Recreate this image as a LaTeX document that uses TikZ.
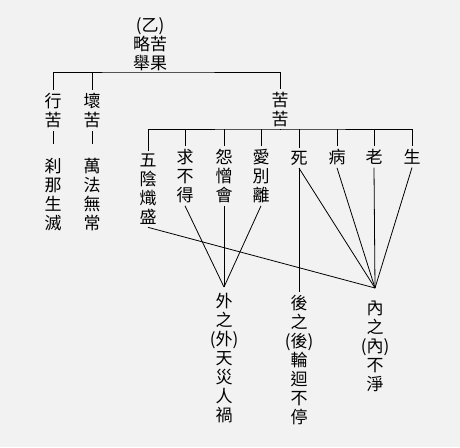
\documentclass[tikz,border=0pt]{standalone}
\usepackage{fontspec}
\newfontfamily\cjk{Noto Sans CJK TC}
\definecolor{paper}{RGB}{242,242,242}
\tikzset{
  lbl/.style={inner sep=0pt, outer sep=3pt, align=center, font=\cjk\fontsize{17}{19}\selectfont},
  wire/.style={line width=0.8pt, draw=black},
}
\begin{document}
\begin{tikzpicture}[x=1pt,y=-1pt]
\fill[paper] (0,0) rectangle (460,447);
\useasboundingbox (0,0) rectangle (460,447);
% nodes
\node[lbl] (root) at (150,44.5) {(乙)\\略苦\\舉果};
\node[lbl] (xing) at (53,110.5) {行\\苦};
\node[lbl] (huai) at (92,110.5) {壞\\苦};
\node[lbl] (kuku) at (280,109.5) {苦\\苦};
\node[lbl] (chana) at (53,195) {刹\\那\\生\\滅};
\node[lbl] (wanfa) at (92,195) {萬\\法\\無\\常};
\node[lbl] (wuyin) at (148,189) {五\\陰\\熾\\盛};
\node[lbl] (qiu) at (185,176) {求\\不\\得};
\node[lbl] (yuan) at (224,176) {怨\\憎\\會};
\node[lbl] (ai) at (261,176) {愛\\別\\離};
\node[lbl] (si) at (299,158) {死};
\node[lbl] (bing) at (337,157) {病};
\node[lbl] (lao) at (374,157) {老};
\node[lbl] (sheng) at (412,157) {生};
\node[lbl] (wai) at (224,358.5) {外\\之\\(外)\\天\\災\\人\\禍};
\node[lbl] (hou) at (299,360) {後\\之\\(後)\\輪\\迴\\不\\停};
\node[lbl] (nei) at (375,346.5) {內\\之\\(內)\\不\\淨};
% junctions
\coordinate (bar1) at (150,72);
\coordinate (bar2) at (280,129);
\coordinate (waiapex) at (224,287);
\coordinate (neiapex) at (375,288);
% tree
\draw[wire] (xing.north) |- (bar1) -| (kuku.north);
\draw[wire] (huai.north) -- (huai.north |- bar1);
\draw[wire] (kuku.south) -- (bar2);
\draw[wire] (wuyin.north) |- (bar2) -| (sheng.north);
\foreach \n in {qiu,yuan,ai,si,bing,lao}
  \draw[wire] (\n.north) -- (\n.north |- bar2);
\draw[wire, shorten >=12pt] (xing.south) -- (chana.north);
\draw[wire, shorten >=12pt] (huai.south) -- (wanfa.north);
% to outer
\draw[wire] (qiu.south) -- (waiapex);
\draw[wire] (yuan.south) -- (waiapex);
\draw[wire] (ai.south) -- (waiapex);
% to rebirth
\draw[wire] (si.south) -- (hou.north);
% to inner
\draw[wire] (wuyin.south) -- (neiapex);
\draw[wire] (si.south) -- (neiapex);
\draw[wire] (bing.south) -- (neiapex);
\draw[wire] (lao.south) -- (neiapex);
\draw[wire] (sheng.south) -- (neiapex);
\end{tikzpicture}
\end{document}
